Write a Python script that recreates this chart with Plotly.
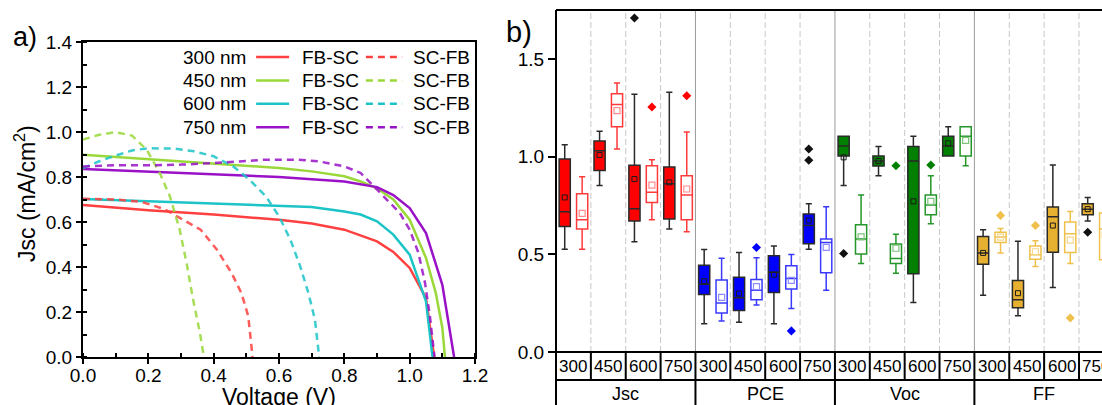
import plotly.graph_objects as go

# ---------------- Panel a) J-V curves ----------------
v_300_fb = [0, 0.2, 0.4, 0.6, 0.7, 0.8, 0.9, 0.95, 1.0, 1.05, 1.075]
j_300_fb = [0.675, 0.652, 0.633, 0.61, 0.593, 0.566, 0.514, 0.467, 0.396, 0.262, 0.0]
v_450_fb = [0, 0.2, 0.4, 0.6, 0.7, 0.8, 0.85, 0.9, 0.95, 1.0, 1.05, 1.08, 1.1, 1.108]
j_450_fb = [0.899, 0.88, 0.862, 0.84, 0.825, 0.803, 0.78, 0.75, 0.70, 0.61, 0.44, 0.284, 0.13, 0.0]
v_600_fb = [0, 0.2, 0.4, 0.6, 0.7, 0.8, 0.85, 0.9, 0.95, 1.0, 1.05, 1.07]
j_600_fb = [0.702, 0.692, 0.684, 0.672, 0.667, 0.647, 0.633, 0.603, 0.544, 0.455, 0.247, 0.0]
v_750_fb = [0, 0.2, 0.4, 0.6, 0.8, 0.9, 0.95, 1.0, 1.05, 1.1, 1.136]
j_750_fb = [0.836, 0.825, 0.813, 0.80, 0.78, 0.755, 0.72, 0.662, 0.551, 0.321, 0.0]

v_300_sc = [0, 0.1, 0.18, 0.25, 0.3, 0.36, 0.41, 0.455, 0.485, 0.506, 0.519]
j_300_sc = [0.703, 0.70, 0.689, 0.657, 0.615, 0.566, 0.477, 0.373, 0.284, 0.181, 0.0]
v_450_sc = [0, 0.05, 0.1, 0.15, 0.195, 0.235, 0.266, 0.296, 0.317, 0.337, 0.358, 0.37]
j_450_sc = [0.966, 0.988, 0.999, 0.984, 0.921, 0.818, 0.714, 0.566, 0.418, 0.255, 0.107, 0.0]
v_600_sc = [0, 0.05, 0.1, 0.15, 0.2, 0.28, 0.34, 0.4, 0.46, 0.51, 0.56, 0.6, 0.635, 0.665, 0.69, 0.71, 0.723]
j_600_sc = [0.84, 0.87, 0.895, 0.918, 0.928, 0.926, 0.914, 0.892, 0.847, 0.788, 0.714, 0.625, 0.521, 0.403, 0.284, 0.166, 0.0]
v_750_sc = [0, 0.1, 0.2, 0.3, 0.4, 0.5, 0.56, 0.66, 0.72, 0.8, 0.85, 0.89, 0.93, 0.97, 1.0, 1.027, 1.047, 1.062, 1.076]
j_750_sc = [0.847, 0.852, 0.852, 0.855, 0.862, 0.873, 0.877, 0.877, 0.87, 0.847, 0.818, 0.759, 0.70, 0.64, 0.566, 0.462, 0.329, 0.181, 0.0]

curve_labels = ["300 nm", "450 nm", "600 nm", "750 nm"]
curve_colors = ["#ff4040", "#9ad83a", "#1cc4c8", "#9a12c8"]
fb_curves = [(v_300_fb, j_300_fb), (v_450_fb, j_450_fb), (v_600_fb, j_600_fb), (v_750_fb, j_750_fb)]
sc_curves = [(v_300_sc, j_300_sc), (v_450_sc, j_450_sc), (v_600_sc, j_600_sc), (v_750_sc, j_750_sc)]

# ---------------- Panel b) box statistics ----------------
groups = ["Jsc", "PCE", "Voc", "FF"]
wavelengths = ["300", "450", "600", "750"]

filled_low = [0.526, 0.852, 0.564, 0.629, 0.144, 0.152, 0.145, 0.526, 0.852, 0.902, 0.253, 1.003, 0.29, 0.186, 0.33, 0.67]
filled_q1 = [0.642, 0.929, 0.67, 0.68, 0.294, 0.212, 0.304, 0.554, 1.003, 0.952, 0.401, 1.003, 0.449, 0.226, 0.511, 0.702]
filled_med = [0.718, 1.03, 0.733, 0.861, 0.347, 0.277, 0.408, 0.647, 1.054, 0.977, 0.977, 1.054, 0.507, 0.267, 0.692, 0.731]
filled_q3 = [0.988, 1.08, 0.955, 0.947, 0.444, 0.383, 0.492, 0.706, 1.104, 1.003, 1.052, 1.104, 0.591, 0.366, 0.742, 0.759]
filled_high = [1.061, 1.129, 1.319, 1.329, 0.525, 0.509, 0.543, 0.759, 1.104, 1.052, 1.104, 1.153, 0.625, 0.567, 0.957, 0.791]
filled_mean = [0.791, 1.008, 0.885, 0.868, 0.362, 0.299, 0.396, 0.673, 0.996, 0.977, 0.771, 1.068, 0.507, 0.301, 0.647, 0.731]

open_low = [0.526, 1.039, 0.677, 0.615, 0.159, 0.241, 0.222, 0.316, 0.453, 0.403, 0.656, 0.953, 0.506, 0.437, 0.453, 0.43]
open_q1 = [0.629, 1.152, 0.765, 0.677, 0.20, 0.268, 0.323, 0.405, 0.502, 0.453, 0.702, 1.003, 0.56, 0.475, 0.509, 0.472]
open_med = [0.677, 1.266, 0.817, 0.803, 0.251, 0.316, 0.376, 0.56, 0.578, 0.478, 0.752, 1.104, 0.588, 0.497, 0.605, 0.629]
open_q3 = [0.81, 1.321, 0.953, 0.902, 0.369, 0.371, 0.441, 0.578, 0.651, 0.552, 0.803, 1.153, 0.613, 0.542, 0.665, 0.711]
open_high = [0.897, 1.377, 0.984, 1.126, 0.48, 0.482, 0.499, 0.743, 0.803, 0.603, 0.902, 1.153, 0.632, 0.569, 0.719, 0.76]
open_mean = [0.709, 1.235, 0.854, 0.834, 0.28, 0.335, 0.366, 0.535, 0.589, 0.531, 0.771, 1.083, 0.588, 0.513, 0.572, 0.60]

filled_out_cell = [2, 7, 7, 8, 15]
filled_out_val = [1.709, 1.039, 0.981, 0.504, 0.613]
open_out_cell = [2, 3, 5, 6, 9, 10, 12, 13, 14]
open_out_val = [1.254, 1.311, 0.535, 0.108, 0.953, 0.957, 0.699, 0.647, 0.174]

fill_colors = ["#ff0000", "#0000ff", "#007f00", "#e6b030"]
open_colors = ["#ff3a3a", "#3a3aff", "#25962a", "#f0c04c"]
open_mean_colors = ["#ff8c8c", "#8c8cff", "#7cc47c", "#f5d890"]

FONT = "Arial, Liberation Sans, sans-serif"
W, H = 1102, 405

fig = go.Figure()

# ---- panel a traces
for k in range(4):
    v, j = fb_curves[k]
    fig.add_trace(go.Scatter(x=v, y=j, mode="lines", line=dict(color=curve_colors[k], width=2.5),
                             xaxis="x", yaxis="y", showlegend=False))
for k in range(4):
    v, j = sc_curves[k]
    fig.add_trace(go.Scatter(x=v, y=j, mode="lines",
                             line=dict(color=curve_colors[k], width=2.5, dash="7px,5px"),
                             opacity=0.85, xaxis="x", yaxis="y", showlegend=False))

# ---- panel b traces
F_OFF, O_OFF, BW = 0.25, 0.75, 0.32
for g in range(4):
    idx = list(range(4 * g, 4 * g + 4))
    fig.add_trace(go.Box(
        x=[i + F_OFF for i in idx],
        q1=[filled_q1[i] for i in idx], median=[filled_med[i] for i in idx],
        q3=[filled_q3[i] for i in idx], lowerfence=[filled_low[i] for i in idx],
        upperfence=[filled_high[i] for i in idx],
        width=BW, whiskerwidth=0.55, boxpoints=False,
        fillcolor=fill_colors[g], line=dict(color="#2a2a2a", width=1.5),
        xaxis="x2", yaxis="y2", showlegend=False))
    fig.add_trace(go.Box(
        x=[i + O_OFF for i in idx],
        q1=[open_q1[i] for i in idx], median=[open_med[i] for i in idx],
        q3=[open_q3[i] for i in idx], lowerfence=[open_low[i] for i in idx],
        upperfence=[open_high[i] for i in idx],
        width=BW, whiskerwidth=0.55, boxpoints=False,
        fillcolor="white", line=dict(color=open_colors[g], width=1.5),
        xaxis="x2", yaxis="y2", showlegend=False))
    fig.add_trace(go.Scatter(
        x=[i + F_OFF for i in idx], y=[filled_mean[i] for i in idx], mode="markers",
        marker=dict(symbol="square-open", size=5, color="#1a1a1a", line=dict(width=1)),
        xaxis="x2", yaxis="y2", showlegend=False))
    fig.add_trace(go.Scatter(
        x=[i + O_OFF for i in idx], y=[open_mean[i] for i in idx], mode="markers",
        marker=dict(symbol="square-open", size=6, color=open_mean_colors[g], line=dict(width=1.2)),
        xaxis="x2", yaxis="y2", showlegend=False))

fig.add_trace(go.Scatter(
    x=[c + F_OFF for c in filled_out_cell], y=filled_out_val, mode="markers",
    marker=dict(symbol="diamond", size=7, color="#111111"),
    xaxis="x2", yaxis="y2", showlegend=False))
fig.add_trace(go.Scatter(
    x=[c + O_OFF for c in open_out_cell], y=open_out_val, mode="markers",
    marker=dict(symbol="diamond", size=7, color=[fill_colors[c // 4] if c // 4 != 3 else open_colors[3] for c in open_out_cell]),
    xaxis="x2", yaxis="y2", showlegend=False))

shapes = []
annotations = []

# ---- panel a legend (drawn as text + line samples)
leg_y = [1.333, 1.229, 1.125, 1.021]
for k in range(4):
    annotations.append(dict(x=0.505, y=leg_y[k], xref="x", yref="y", text=curve_labels[k],
                            showarrow=False, xanchor="right", yanchor="middle",
                            font=dict(size=19, color="black", family=FONT)))
    annotations.append(dict(x=0.664, y=leg_y[k], xref="x", yref="y", text="FB-SC",
                            showarrow=False, xanchor="left", yanchor="middle",
                            font=dict(size=19, color="black", family=FONT)))
    annotations.append(dict(x=1.004, y=leg_y[k], xref="x", yref="y", text="SC-FB",
                            showarrow=False, xanchor="left", yanchor="middle",
                            font=dict(size=19, color="black", family=FONT)))
    shapes.append(dict(type="line", xref="x", yref="y", x0=0.53, x1=0.631, y0=leg_y[k], y1=leg_y[k],
                       line=dict(color=curve_colors[k], width=2.5)))
    shapes.append(dict(type="line", xref="x", yref="y", x0=0.866, x1=0.977, y0=leg_y[k], y1=leg_y[k],
                       line=dict(color=curve_colors[k], width=2.5, dash="7px,5px")))

# ---- panel b grid, frame and category table
n_cells = 16
row1_top = 53 / H
row1_bot = 25 / H
for i in range(1, n_cells):
    is_group = (i % 4 == 0)
    shapes.append(dict(type="line", xref="x2", yref="y2 domain", x0=i, x1=i, y0=0, y1=1, layer="below",
                       line=dict(color="#9a9a9a" if is_group else "#c8c8c8", width=1,
                                 dash="solid" if is_group else "6px,3px")))
    shapes.append(dict(type="line", xref="x2", yref="paper", x0=i, x1=i, y0=row1_bot, y1=row1_top,
                       line=dict(color="black", width=2)))
    if is_group:
        shapes.append(dict(type="line", xref="x2", yref="paper", x0=i, x1=i, y0=0, y1=row1_bot,
                           line=dict(color="black", width=2)))
shapes.append(dict(type="line", xref="x2 domain", yref="paper", x0=0, x1=1, y0=row1_top, y1=row1_top,
                   line=dict(color="black", width=2)))
shapes.append(dict(type="line", xref="x2 domain", yref="paper", x0=0, x1=1, y0=row1_bot, y1=row1_bot,
                   line=dict(color="black", width=2)))
shapes.append(dict(type="line", xref="x2 domain", yref="paper", x0=0, x1=0, y0=0, y1=395 / H,
                   line=dict(color="black", width=2)))
shapes.append(dict(type="line", xref="x2 domain", yref="y2 domain", x0=0, x1=1, y0=1, y1=1,
                   line=dict(color="black", width=2)))

for i in range(n_cells):
    annotations.append(dict(x=i + 0.5, y=(H - 366) / H, xref="x2", yref="paper", text=wavelengths[i % 4],
                            showarrow=False, xanchor="center", yanchor="middle",
                            font=dict(size=17, color="black", family=FONT)))
for g in range(4):
    annotations.append(dict(x=4 * g + 2, y=(H - 394) / H, xref="x2", yref="paper", text=groups[g],
                            showarrow=False, xanchor="center", yanchor="middle",
                            font=dict(size=18, color="black", family=FONT)))

# ---- titles & panel letters
annotations.append(dict(x=25 / W, y=(H - 194) / H, xref="paper", yref="paper",
                        text="Jsc (mA/cm<sup>2</sup>)", textangle=-90, showarrow=False,
                        xanchor="center", yanchor="middle", font=dict(size=23, color="black", family=FONT)))
annotations.append(dict(x=279 / W, y=(H - 397) / H, xref="paper", yref="paper",
                        text="Voltage (V)", showarrow=False,
                        xanchor="center", yanchor="middle", font=dict(size=23, color="black", family=FONT)))
annotations.append(dict(x=25 / W, y=(H - 37) / H, xref="paper", yref="paper", text="a)",
                        showarrow=False, xanchor="center", yanchor="middle",
                        font=dict(size=27, color="black", family=FONT)))
annotations.append(dict(x=519 / W, y=(H - 32) / H, xref="paper", yref="paper", text="b)",
                        showarrow=False, xanchor="center", yanchor="middle",
                        font=dict(size=29, color="black", family=FONT)))

tickfont = dict(size=19, color="black", family=FONT)
fig.update_layout(
    template="none",
    width=W, height=H, margin=dict(l=0, r=0, t=0, b=0, pad=0),
    paper_bgcolor="white", plot_bgcolor="white", showlegend=False,
    xaxis=dict(domain=[83 / W, 475 / W], range=[0, 1.2], tick0=0, dtick=0.2, tickformat=".1f",
               showline=True, mirror=True, linecolor="black", linewidth=2,
               ticks="outside", ticklen=5, tickwidth=1.5, tickcolor="black", ticklabelstandoff=-5,
               minor=dict(ticks="inside", dtick=0.1, ticklen=4, tickwidth=1.5, tickcolor="black", showgrid=False),
               showgrid=False, zeroline=False, tickfont=tickfont, anchor="y", automargin=False),
    yaxis=dict(domain=[48 / H, 363 / H], range=[0, 1.4], tick0=0, dtick=0.2, tickformat=".1f",
               showline=True, mirror=True, linecolor="black", linewidth=2,
               ticks="outside", ticklen=5, tickwidth=1.5, tickcolor="black",
               minor=dict(ticks="inside", dtick=0.1, ticklen=4, tickwidth=1.5, tickcolor="black", showgrid=False),
               showgrid=False, zeroline=False, tickfont=tickfont, anchor="x", automargin=False),
    xaxis2=dict(domain=[556 / W, 1.0], range=[0, 15.66], showticklabels=False, ticks="",
                showgrid=False, zeroline=False, showline=False, anchor="y2", automargin=False),
    yaxis2=dict(domain=[53 / H, 395 / H], range=[0, 1.75], tickvals=[0, 0.5, 1.0, 1.5],
                ticktext=["0.0", "0.5", "1.0", "1.5"], ticks="outside", ticklen=7, tickwidth=1.5,
                tickcolor="black", showline=False, showgrid=False, zeroline=False,
                tickfont=tickfont, anchor="x2", automargin=False),
    shapes=shapes, annotations=annotations, boxmode="overlay",
)

fig.write_html("out.html", config={"displayModeBar": False},
               post_script="document.body.style.margin='0';document.body.style.overflow='hidden';")
